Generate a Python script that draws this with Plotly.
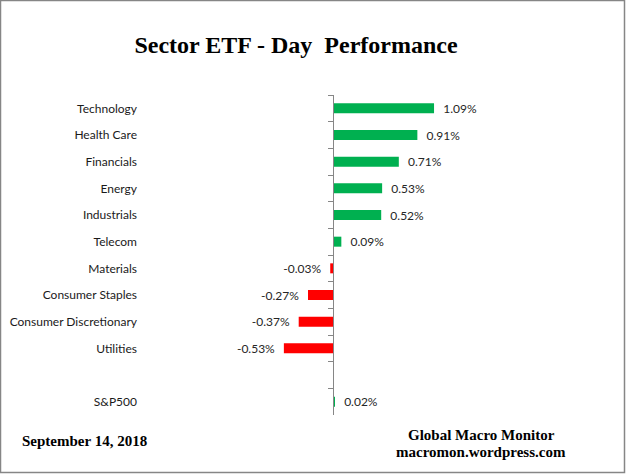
import plotly.graph_objects as go

categories = ["Technology", "Health Care", "Financials", "Energy", "Industrials",
              "Telecom", "Materials", "Consumer Staples", "Consumer Discretionary",
              "Utilities", " ", "S&P500"]
values = [1.09, 0.91, 0.71, 0.53, 0.52, 0.09, -0.03, -0.27, -0.37, -0.53, None, 0.02]

title_text = "Sector ETF - Day  Performance"
date_text = "September 14, 2018"
source_lines = ["Global Macro Monitor", "macromon.wordpress.com"]

W, H = 626, 474
colors = ["#00B050" if (v is not None and v >= 0) else "#FF0000" for v in values]
NB = "\u00a0\u00a0"
texts = [("" if v is None else (NB + f"{v:.2f}%" if v >= 0 else f"{v:.2f}%" + NB))
         for v in values]

# plot area geometry (paper px)
x_left, x_right = 140, 600
zero_px = 333
px_per_unit = 92.7
span = (x_right - x_left) / px_per_unit
xmin = -(zero_px - x_left) / px_per_unit
xmax = xmin + span

y_top_px, y_bot_px = 95, 415
dom = [1 - y_bot_px / H, 1 - y_top_px / H]

fig = go.Figure()
fig.add_trace(go.Bar(
    x=values, y=categories, orientation="h",
    marker=dict(color=colors, line=dict(width=0)),
    text=texts, textposition="outside", cliponaxis=False, constraintext="none",
    textfont=dict(family="Lato", size=12, color="#262626"),
    hoverinfo="skip", showlegend=False,
))
fig.add_trace(go.Scatter(
    x=[0] * len(categories), y=categories, yaxis="y2", mode="markers",
    marker=dict(opacity=0), hoverinfo="skip", showlegend=False,
))

fig.update_layout(
    width=W, height=H,
    margin=dict(l=0, r=0, t=0, b=0),
    paper_bgcolor="white", plot_bgcolor="white",
    bargap=0.625,
    xaxis=dict(domain=[x_left / W, x_right / W], range=[xmin, xmax],
               visible=False, showgrid=False, zeroline=False),
    yaxis=dict(domain=dom, type="category", categoryarray=categories,
               range=[len(categories) - 0.5, -0.5],
               anchor="free", position=zero_px / W,
               showline=True, linecolor="#868686", linewidth=1,
               ticks="outside", ticklen=5, tickcolor="#868686",
               tickson="boundaries", showticklabels=False, showgrid=False),
    yaxis2=dict(domain=dom, overlaying="y", type="category", categoryarray=categories,
                range=[len(categories) - 0.5, -0.5],
                anchor="free", position=137 / W, side="left",
                showline=False, ticks="", showgrid=False,
                tickfont=dict(family="Lato", size=12, color="#1a1a1a")),
    title=dict(text=f"<b>{title_text}</b>", x=296 / W, xanchor="center",
               y=1 - 45 / H, yanchor="middle",
               font=dict(family="Liberation Serif", size=24, color="black")),
)

fig.add_annotation(text=f"<b>{date_text}</b>", xref="paper", yref="paper",
                   x=20 / W, y=1 - 441 / H, xanchor="left", yanchor="middle",
                   showarrow=False,
                   font=dict(family="Liberation Serif", size=15, color="black"))
fig.add_annotation(text=f"<b>{source_lines[0]}</b>", xref="paper", yref="paper",
                   x=481 / W, y=1 - 435 / H, xanchor="center", yanchor="middle",
                   showarrow=False,
                   font=dict(family="Liberation Serif", size=15, color="black"))
fig.add_annotation(text=f"<b>{source_lines[1]}</b>", xref="paper", yref="paper",
                   x=481 / W, y=1 - 452 / H, xanchor="center", yanchor="middle",
                   showarrow=False,
                   font=dict(family="Liberation Serif", size=15, color="black"))

fig.add_shape(type="rect", xref="paper", yref="paper", x0=0.5 / W, y0=1.5 / H,
              x1=1 - 1.5 / W, y1=1 - 0.5 / H,
              line=dict(color="#868686", width=1.5), fillcolor="rgba(0,0,0,0)")

fig.write_html("out.html", config={"displayModeBar": False},
               post_script="document.body.style.margin='0';document.body.style.overflow='hidden';")
